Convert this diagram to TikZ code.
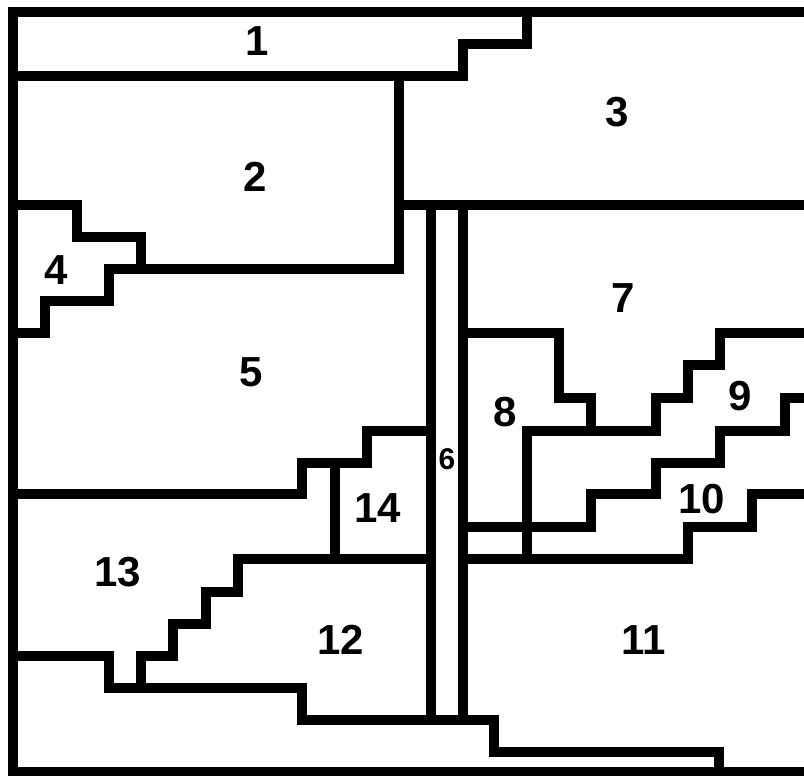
\documentclass[tikz,border=0pt]{standalone}
\usepackage{fontspec}
\setmainfont{Liberation Sans}
\begin{document}
\begin{tikzpicture}[x=1pt, y=-1pt, line width=9.5pt, line join=miter,
  every node/.style={font=\bfseries\fontsize{42}{42}\selectfont, inner sep=0pt},
  small/.style={font=\bfseries\fontsize{30}{30}\selectfont}]
\useasboundingbox (0,0) rectangle (804,776);
\draw (830,12) -- (13,12) -- (13,772) -- (830,772);

\draw (13,76) -- (463,76) -- (463,44) -- (527,44) -- (527,12);
\draw (399,76) -- (399,269) -- (141,269);
\draw (399,205) -- (830,205);
\draw (13,205) -- (77,205) -- (77,237) -- (141,237) -- (141,269) -- (109,269) -- (109,301) -- (45,301) -- (45,333) -- (13,333);
\draw (431,205) -- (431,720);
\draw (463,205) -- (463,720);
\draw (431,431) -- (367,431) -- (367,463) -- (302,463) -- (302,494) -- (13,494);
\draw (335,463) -- (335,559);
\draw (431,559) -- (238,559) -- (238,592) -- (206,592) -- (206,624) -- (173,624) -- (173,656) -- (141,656) -- (141,688) -- (109,688) -- (109,656) -- (13,656);
\draw (141,688) -- (302,688) -- (302,720) -- (494,720) -- (494,752) -- (719,752) -- (719,772);
\draw (463,333) -- (559,333) -- (559,398) -- (591,398) -- (591,431) -- (656,431) -- (656,398) -- (688,398) -- (688,365) -- (720,365) -- (720,333) -- (830,333);
\draw (591,431) -- (527,431) -- (527,559);
\draw (830,398) -- (785,398) -- (785,431) -- (720,431) -- (720,463) -- (656,463) -- (656,494) -- (591,494) -- (591,527) -- (463,527);
\draw (463,559) -- (688,559) -- (688,527) -- (752,527) -- (752,494) -- (830,494);

\node (r1) at (257,41) {1};
\node (r2) at (255,177) {2};
\node (r3) at (617,112) {3};
\node (r4) at (56,270) {4};
\node (r5) at (251,372) {5};
\node[small] (r6) at (447,459) {6};
\node (r7) at (623,298) {7};
\node (r8) at (505,412) {8};
\node (r9) at (740,396) {9};
\node (r10) at (702,499) {10};
\node (r11) at (644,640) {11};
\node (r12) at (341,640) {12};
\node (r13) at (118,572) {13};
\node (r14) at (378,508) {14};
\end{tikzpicture}
\end{document}
